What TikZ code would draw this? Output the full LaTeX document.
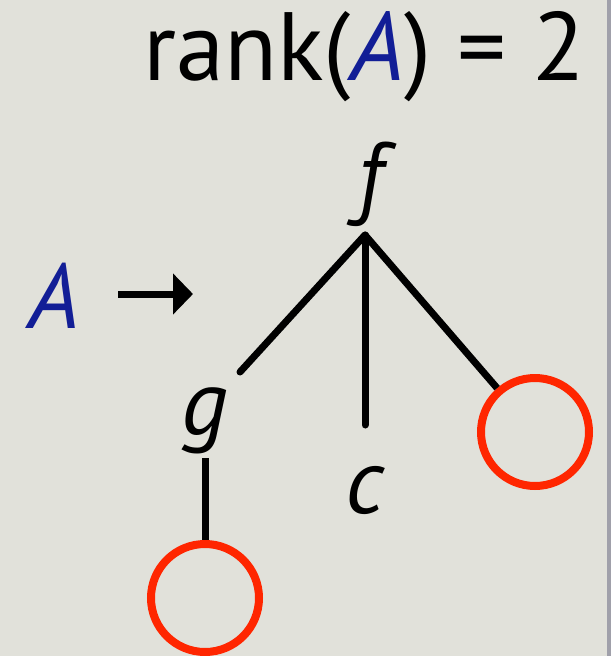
\documentclass[tikz,border=0pt]{standalone}
\usepackage{fontspec}
\setmainfont{PT Sans}
\usepackage{xcolor}
\usetikzlibrary{arrows.meta}
\definecolor{slidegray}{RGB}{225,225,218}
\definecolor{edgegray}{RGB}{160,160,170}
\definecolor{deepblue}{RGB}{18,30,150}
\definecolor{holered}{RGB}{255,38,0}

\tikzset{
  lbl/.style={inner sep=0pt,font=\fontsize{92}{96}\selectfont\itshape},
  edge/.style={line width=7pt,line cap=round},
  hole/.style={circle,draw=holered,line width=8pt,minimum size=108pt,inner sep=0pt}
}

\begin{document}
\begin{tikzpicture}[x=1pt,y=-1pt]
  \useasboundingbox (0,0) rectangle (611,656);
  \fill[slidegray] (0,0) rectangle (611,656);
  \fill[edgegray] (607,0) rectangle (611,656);
  \node[anchor=base east,inner sep=0pt,font=\fontsize{97}{100}\selectfont] (title) at (586,80)
    {rank(\textit{\textcolor{deepblue}{A}}) = 2};
  \node[lbl,anchor=base,text=deepblue] (A) at (54,328) {A};
  \coordinate (tip) at (193,294);
  \draw[line width=7pt,-{Triangle[length=20pt,width=40pt]}] (118,294) -- (tip);
  \node[lbl,anchor=base] (f) at (370,207) {f};
  \coordinate (root) at (365,235);
  \node[lbl,anchor=base] (g) at (205,434) {g};
  \node[lbl,anchor=base] (c) at (365,513) {c};
  \coordinate (gtop) at (240,372);
  \coordinate (ctop) at (365,425);
  \coordinate (gfoot) at (205,458);
  \node[hole] (hole1) at (205,598) {};
  \node[hole] (hole2) at (535,432) {};
  \draw[edge] (root) -- (gtop);
  \draw[edge] (root) -- (ctop);
  \draw[edge,line cap=butt] (root) -- (hole2);
  \draw[edge,line cap=butt] (gfoot) -- (hole1);
\end{tikzpicture}
\end{document}
